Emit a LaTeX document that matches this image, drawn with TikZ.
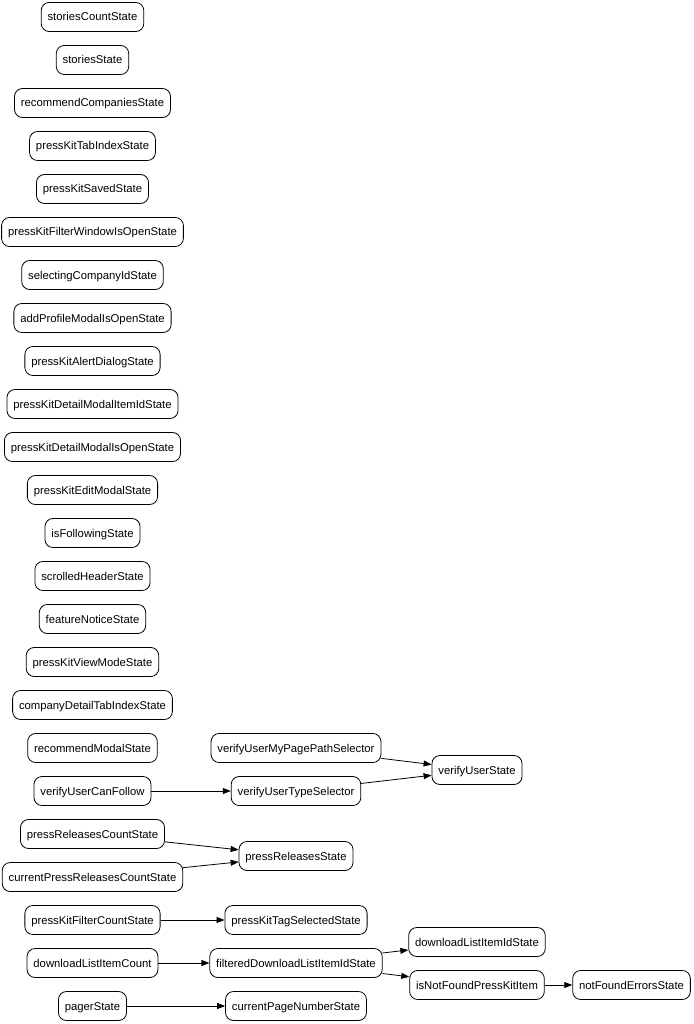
\documentclass[tikz,border=0pt]{standalone}
\usepackage{fontspec}
\setmainfont{Liberation Sans}
\usetikzlibrary{arrows.meta}
\begin{document}
\begin{tikzpicture}[x=1pt,y=-1pt,
  st/.style={draw, line width=0.8pt, rounded corners=8pt, minimum height=29pt, inner xsep=6.4pt, inner ysep=0pt, font=\fontsize{11.3}{13}\selectfont, text height=8pt, text depth=0pt},
  ed/.style={line width=0.8pt, -{Triangle[length=8pt,width=6pt]}}]
\path[use as bounding box] (0,0) rectangle (693,1024);
\def\cx{92.5}
\node[st] (a1) at (\cx,17) {storiesCountState};
\node[st] (a2) at (\cx,60) {storiesState};
\node[st] (a3) at (\cx,103) {recommendCompaniesState};
\node[st] (a4) at (\cx,146) {pressKitTabIndexState};
\node[st] (a5) at (\cx,189) {pressKitSavedState};
\node[st] (a6) at (\cx,232) {pressKitFilterWindowIsOpenState};
\node[st] (a7) at (\cx,275) {selectingCompanyIdState};
\node[st] (a8) at (\cx,318) {addProfileModalIsOpenState};
\node[st] (a9) at (\cx,361) {pressKitAlertDialogState};
\node[st] (a10) at (\cx,404) {pressKitDetailModalItemIdState};
\node[st] (a11) at (\cx,447) {pressKitDetailModalIsOpenState};
\node[st] (a12) at (\cx,490) {pressKitEditModalState};
\node[st] (a13) at (\cx,533) {isFollowingState};
\node[st] (a14) at (\cx,576) {scrolledHeaderState};
\node[st] (a15) at (\cx,619) {featureNoticeState};
\node[st] (a16) at (\cx,662) {pressKitViewModeState};
\node[st] (a17) at (\cx,705) {companyDetailTabIndexState};
\node[st] (a18) at (\cx,748) {recommendModalState};
\node[st] (vcf) at (\cx,791) {verifyUserCanFollow};
\node[st] (prc) at (\cx,834) {pressReleasesCountState};
\node[st] (cprc) at (\cx,877) {currentPressReleasesCountState};
\node[st] (pkfc) at (\cx,920) {pressKitFilterCountState};
\node[st] (dlic) at (\cx,963) {downloadListItemCount};
\node[st] (pager) at (\cx,1006) {pagerState};
\def\cy{296}
\node[st] (vmp) at (\cy,748) {verifyUserMyPagePathSelector};
\node[st] (vts) at (\cy,791) {verifyUserTypeSelector};
\node[st] (prs) at (\cy,856) {pressReleasesState};
\node[st] (pkts) at (\cy,920) {pressKitTagSelectedState};
\node[st] (fdl) at (\cy,963) {filteredDownloadListItemIdState};
\node[st] (cpn) at (\cy,1006) {currentPageNumberState};
\def\cz{477}
\node[st] (vus) at (\cz,770) {verifyUserState};
\node[st] (dlid) at (\cz,942) {downloadListItemIdState};
\node[st] (inf) at (\cz,985) {isNotFoundPressKitItem};
\node[st] (nfe) at (631.5,985) {notFoundErrorsState};
\draw[ed] (vmp) -- (vus);
\draw[ed] (vts) -- (vus);
\draw[ed] (vcf) -- (vts);
\draw[ed] (prc) -- (prs);
\draw[ed] (cprc) -- (prs);
\draw[ed] (pkfc) -- (pkts);
\draw[ed] (dlic) -- (fdl);
\draw[ed] (fdl) -- (dlid);
\draw[ed] (fdl) -- (inf);
\draw[ed] (inf) -- (nfe);
\draw[ed] (pager) -- (cpn);
\end{tikzpicture}
\end{document}
